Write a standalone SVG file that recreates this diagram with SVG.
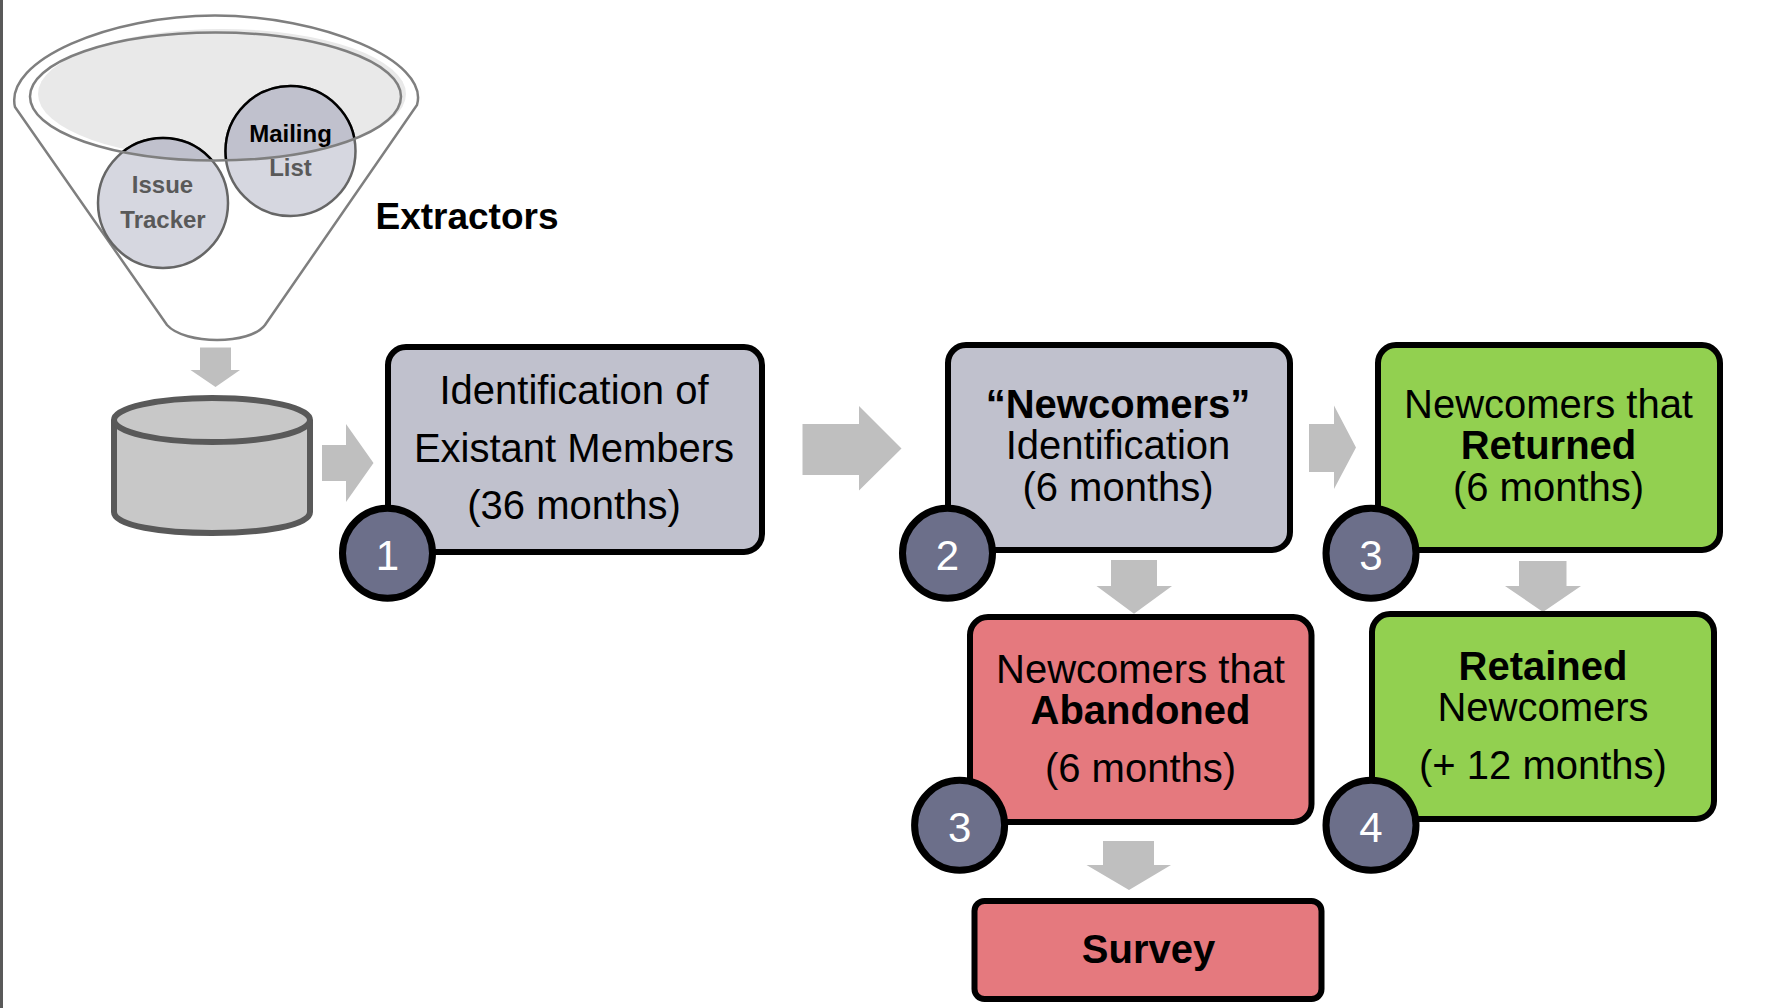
<svg xmlns="http://www.w3.org/2000/svg" width="1776" height="1008" viewBox="0 0 1776 1008">
<style>
text{font-family:"Liberation Sans",Arial,sans-serif;text-anchor:middle;fill:#000}
.t{font-size:40px}
.b{font-weight:bold}
.s{font-size:24px;font-weight:bold}
.g{fill:#595959}
.n{fill:#fff;font-size:42px}
.box{stroke:#000;stroke-width:6}
.grey{fill:#c0c1cd}.green{fill:#92d050}.red{fill:#e5797e}
.num{fill:#6c6f8a;stroke:#000;stroke-width:7}
.arrow{fill:#bfbfbf}
.fl{fill:none;stroke:#7f7f7f;stroke-width:2.5}
</style>
<defs>
<clipPath id="inner"><ellipse cx="215.5" cy="96.5" rx="185.500" ry="64"/></clipPath>
</defs>
<rect x="0" y="0" width="3" height="1008" fill="#595959"/>
<g id="funnel">
<path d="M15 107C4 60 110 15.500 215 15.500C320 15.500 430 60 417 105L265 325C250 345 185 345 167 325Z" fill="#fff" stroke="#7f7f7f" stroke-width="2.500"/>
<ellipse cx="222" cy="94" rx="184" ry="65" fill="#e9e9e9"/>
</g>
<g id="issue-tracker">
<circle cx="163" cy="203" r="65" fill="#d6d7e0" stroke="#666" stroke-width="2.500"/>
<circle cx="163" cy="203" r="65" class="grey" stroke="#000" stroke-width="2.500" clip-path="url(#inner)"/>
<text x="162.500" y="193" class="s g">Issue</text>
<text x="163" y="228" class="s g">Tracker</text>
</g>
<g id="mailing-list">
<circle cx="290.500" cy="151" r="65" fill="#d6d7e0" stroke="#666" stroke-width="2.500"/>
<circle cx="290.500" cy="151" r="65" class="grey" stroke="#000" stroke-width="2.500" clip-path="url(#inner)"/>
<text x="290.500" y="142" class="s">Mailing</text>
<text x="290.500" y="176" class="s g">List</text>
</g>
<ellipse id="funnel-rim" cx="215.500" cy="96.500" rx="185.500" ry="64" class="fl"/>
<text id="extractors" x="467" y="228.500" font-size="37" class="b">Extractors</text>
<g id="database">
<path d="M114 420V512C114 540 310 540 310 512V420" fill="#c8c8c8" stroke="#595959" stroke-width="6"/>
<ellipse cx="212" cy="420" rx="98" ry="22" fill="#c8c8c8" stroke="#595959" stroke-width="6"/>
</g>
<g id="connectors">
<polygon class="arrow" points="200,347.500 231,347.500 231,370 240,370 215.500,387 190.500,370 200,370"/>
<polygon class="arrow" points="322,445 346,445 346,424 373.500,463 346,502 346,481 322,481"/>
<polygon class="arrow" points="802.500,424 859,424 859,406 901.500,448.500 859,490.500 859,475 802.500,475"/>
<polygon class="arrow" points="1309,424 1334,424 1334,405.500 1356,447.500 1334,489 1334,472 1309,472"/>
<polygon class="arrow" points="1111,560 1157,560 1157,586 1172,586 1134,613.700 1096.500,586 1111,586"/>
<polygon class="arrow" points="1519,561 1566.500,561 1566.500,586 1581,586 1543,612 1505,586 1519,586"/>
<polygon class="arrow" points="1103,841 1154,841 1154,865 1171,865 1129,890 1086.500,865 1103,865"/>
</g>
<g id="box-existing">
<rect x="388" y="347" width="374" height="205" rx="18" class="box grey"/>
<text x="574" y="404" class="t">Identification of</text>
<text x="574" y="462" class="t">Existant Members</text>
<text x="574" y="519" class="t">(36 months)</text>
<circle cx="387.500" cy="553.300" r="45" class="num"/>
<text x="387.500" y="570" class="n">1</text>
</g>
<g id="box-newcomers">
<rect x="948" y="345" width="342" height="205" rx="18" class="box grey"/>
<text x="1118" y="418" class="t b">“Newcomers”</text>
<text x="1118" y="459" class="t">Identification</text>
<text x="1118" y="501" class="t">(6 months)</text>
<circle cx="947.500" cy="553.300" r="45" class="num"/>
<text x="947.500" y="570" class="n">2</text>
</g>
<g id="box-returned">
<rect x="1378" y="345" width="342" height="205" rx="18" class="box green"/>
<text x="1548.500" y="418" class="t">Newcomers that</text>
<text x="1548.500" y="459" class="t b">Returned</text>
<text x="1548.500" y="501" class="t">(6 months)</text>
<circle cx="1371" cy="553.300" r="45" class="num"/>
<text x="1371" y="570" class="n">3</text>
</g>
<g id="box-abandoned">
<rect x="970" y="617" width="341.500" height="205" rx="18" class="box red"/>
<text x="1140.500" y="683" class="t">Newcomers that</text>
<text x="1140.500" y="724" class="t b">Abandoned</text>
<text x="1140.500" y="782" class="t">(6 months)</text>
<circle cx="959.600" cy="825.300" r="45" class="num"/>
<text x="959.600" y="842" class="n">3</text>
</g>
<g id="box-retained">
<rect x="1372" y="614" width="342" height="205" rx="18" class="box green"/>
<text x="1543" y="680" class="t b">Retained</text>
<text x="1543" y="721" class="t">Newcomers</text>
<text x="1543" y="779" class="t">(+ 12 months)</text>
<circle cx="1371" cy="825.300" r="45" class="num"/>
<text x="1371" y="842" class="n">4</text>
</g>
<g id="box-survey">
<rect x="974.500" y="901" width="347" height="98" rx="10" class="box red"/>
<text x="1148.500" y="963" class="t b">Survey</text>
</g>
</svg>
